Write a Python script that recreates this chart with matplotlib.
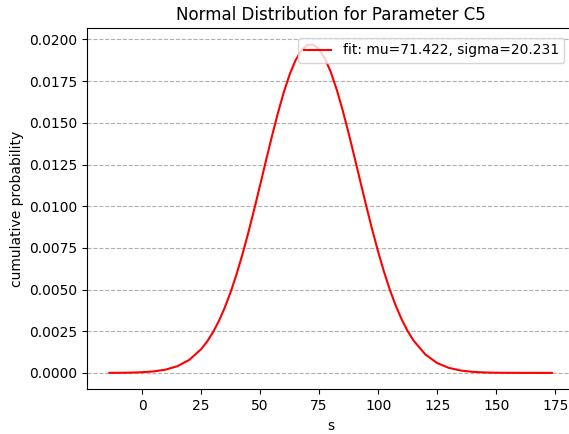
import matplotlib
matplotlib.use("Agg")
import matplotlib.pyplot as plt

x_vals = [-13.8, -10, -5, 0, 5, 10, 15, 20, 25, 27.5, 30, 32.5, 35, 37.5, 40, 42.5, 45,
          47.5, 50, 52.5, 55, 57.5, 60, 62.5, 65, 67.5, 70, 72.5, 75, 77.5, 80, 82.5,
          85, 87.5, 90, 92.5, 95, 97.5, 100, 102.5, 105, 107.5, 110, 112.5, 115, 120,
          125, 130, 135, 140, 145, 150, 155, 160, 165, 170, 173.6]
y_vals = [2.76e-6, 6.0e-6, 1.57e-5, 3.88e-5, 9.0e-5, 1.96e-4, 4.04e-4, 7.80e-4, 1.417e-3,
          1.868e-3, 2.424e-3, 3.098e-3, 3.900e-3, 4.835e-3, 5.902e-3, 7.097e-3, 8.404e-3,
          9.800e-3, 1.1257e-2, 1.2733e-2, 1.4184e-2, 1.5560e-2, 1.6815e-2, 1.7893e-2,
          1.8749e-2, 1.9352e-2, 1.9670e-2, 1.9691e-2, 1.9413e-2, 1.8849e-2, 1.8023e-2,
          1.6974e-2, 1.5744e-2, 1.4379e-2, 1.2936e-2, 1.1459e-2, 9.999e-3, 8.592e-3,
          7.271e-3, 6.060e-3, 4.973e-3, 4.021e-3, 3.200e-3, 2.510e-3, 1.938e-3, 1.104e-3,
          5.91e-4, 2.98e-4, 1.41e-4, 6.3e-5, 2.65e-5, 1.05e-5, 3.9e-6, 1.4e-6, 4.5e-7,
          1.4e-7, 5e-8]
legend_label = "fit: mu=71.422, sigma=20.231"

fig, ax = plt.subplots(figsize=(5.69, 4.34), dpi=100)
fig.subplots_adjust(left=0.1535, right=1.0088, top=0.935, bottom=0.103)
ax.plot(x_vals, y_vals, color="red", label=legend_label)
ax.yaxis.grid(True, linestyle="--", color="#b0b0b0")
ax.set_title("Normal Distribution for Parameter C5")
ax.set_xlabel("s")
ax.set_ylabel("cumulative probability")
ax.legend(loc="upper right", borderaxespad=0.7)
fig.savefig("out.png", dpi=100)
